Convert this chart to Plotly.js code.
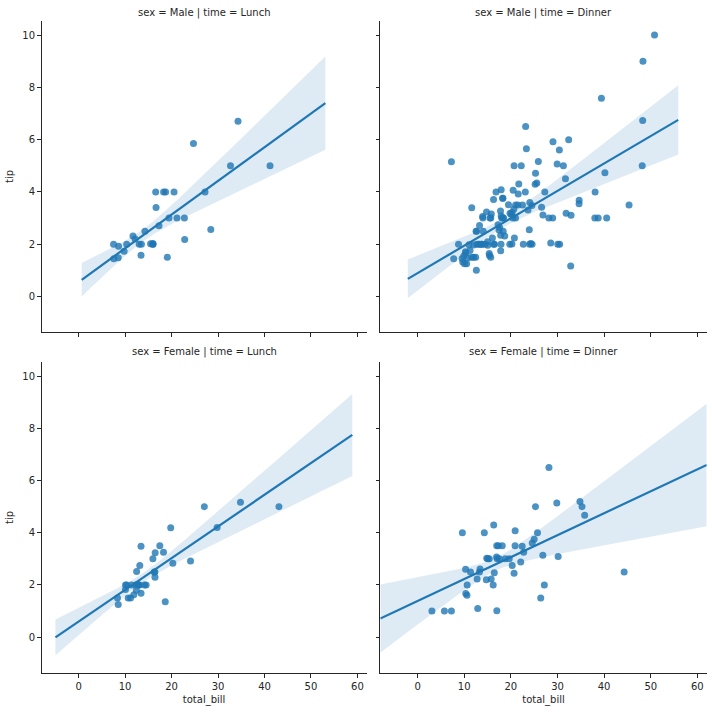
<!DOCTYPE html>
<html>
<head>
<meta charset="utf-8">
<script src="https://cdn.plot.ly/plotly-3.0.1.min.js"></script>
<style>html,body{margin:0;padding:0;background:#fff;}#chart{width:712px;height:712px;}</style>
</head>
<body>
<div id="chart"></div>
<script>
// ---- data: tips dataset, split by sex and time ----
const maleLunchBill = [27.2,22.76,17.29,19.44,16.66,32.68,15.98,13.03,18.28,24.71,21.16,11.69,14.26,15.95,8.52,22.82,19.08,16.0,34.3,41.19,9.78,7.51,28.44,15.48,16.58,7.56,10.34,13.51,18.71,20.53,12.16,8.58,13.42];
const maleLunchTip  = [4.0,3.0,2.71,3.0,3.4,5.0,2.03,2.0,4.0,5.85,3.0,2.31,2.5,2.0,1.48,2.18,1.5,2.0,6.7,5.0,1.73,2.0,2.56,2.02,4.0,1.44,2.0,2.0,4.0,4.0,2.2,1.92,1.58];

const maleDinnerBill = [10.34,21.01,23.68,25.29,8.77,26.88,15.04,14.78,10.27,15.42,18.43,21.58,16.29,20.65,17.92,39.42,19.82,17.81,13.37,12.69,21.7,9.55,18.35,17.78,24.06,16.31,18.69,31.27,16.04,17.46,13.94,9.68,30.4,18.29,22.23,32.4,28.55,18.04,12.54,9.94,25.56,19.49,38.01,11.24,48.27,20.29,13.81,11.02,18.29,17.59,20.08,20.23,15.01,12.02,10.51,17.92,28.97,22.49,40.17,27.28,12.03,21.01,12.46,15.36,20.49,25.21,18.24,14.0,38.07,23.95,29.93,14.07,13.13,17.26,24.55,19.77,48.17,16.49,21.5,12.66,13.81,24.52,20.76,31.71,50.81,15.81,7.25,31.85,16.82,32.9,17.89,14.48,34.63,34.65,23.33,45.35,23.17,40.55,20.69,30.46,23.1,15.69,26.59,38.73,24.27,30.06,25.89,48.33,28.15,11.59,7.74,20.45,13.28,24.01,15.69,11.61,10.77,15.53,10.07,12.6,32.83,29.03,22.67,17.82];
const maleDinnerTip  = [1.66,3.5,3.31,4.71,2.0,3.12,1.96,3.23,1.71,1.57,3.0,3.92,3.71,3.35,4.08,7.58,3.18,2.34,2.0,2.0,4.3,1.45,2.5,3.27,3.6,2.0,2.31,5.0,2.24,2.54,3.06,1.32,5.6,3.0,5.0,6.0,2.05,3.0,2.5,1.56,4.34,3.51,3.0,1.76,6.73,3.21,2.0,1.98,3.76,2.64,3.15,2.01,2.09,1.97,1.25,3.08,3.0,3.5,4.73,4.0,1.5,3.0,1.5,1.64,4.06,4.29,3.76,3.0,4.0,2.55,5.07,2.5,2.0,2.74,2.0,2.0,5.0,2.0,3.5,2.5,2.0,3.48,2.24,4.5,10.0,3.16,5.15,3.18,4.0,3.11,2.0,2.0,3.55,3.68,5.65,3.5,6.5,3.0,5.0,2.0,4.0,1.5,3.41,3.0,2.03,2.0,5.16,9.0,3.0,1.5,1.44,3.0,2.72,2.0,3.0,3.39,1.47,3.0,1.25,1.0,1.17,5.92,2.0,1.75];

const femaleLunchBill = [10.07,34.83,10.65,12.43,24.08,13.42,12.48,29.8,14.52,11.38,20.27,11.17,12.26,18.26,8.51,10.33,14.15,13.16,17.47,27.05,16.43,8.35,18.64,11.87,19.81,43.11,13.0,12.74,13.0,16.4,16.47,13.42,15.98,16.27,10.09];
const femaleLunchTip  = [1.83,5.17,1.5,1.8,2.92,1.68,2.52,4.2,2.0,2.0,2.83,1.5,2.0,3.25,1.25,2.0,2.0,2.75,3.5,5.0,2.3,1.5,1.36,1.63,4.19,5.0,2.0,2.01,2.0,2.5,3.23,3.48,3.0,2.5,2.0];

const femaleDinnerBill = [16.99,24.59,35.26,14.83,10.33,16.97,20.29,15.77,19.65,15.06,20.69,16.93,10.29,34.81,26.41,16.45,3.07,17.07,26.86,25.28,14.73,5.75,16.32,22.75,11.35,15.38,44.3,22.42,20.92,14.31,7.25,25.71,17.31,29.85,25.0,13.39,16.21,17.51,10.59,10.63,9.6,20.9,18.15,12.76,13.27,28.17,12.9,30.14,22.12,35.83,27.18,18.78];
const femaleDinnerTip  = [1.01,3.61,5.0,3.02,1.67,3.5,2.75,2.23,3.0,3.0,2.45,3.07,2.6,5.2,1.5,2.47,1.0,3.0,3.14,5.0,2.2,1.0,4.3,3.25,2.5,3.0,2.5,3.48,4.08,4.0,1.0,4.0,3.5,5.14,3.75,2.61,2.0,3.0,1.61,2.0,4.0,3.5,3.5,2.23,2.5,6.5,1.1,3.09,2.88,4.67,2.0,3.0];

// facet titles
const facetTitles = ["sex = Male | time = Lunch","sex = Male | time = Dinner","sex = Female | time = Lunch","sex = Female | time = Dinner"];
// x extent of each fitted line
const lineStart = [0.65, -2.1, -5.0, -8.0];
const lineEnd   = [53.1, 55.9, 58.9, 62.0];
const xTickVals = [0,10,20,30,40,50,60];
const yTickVals = [0,2,4,6,8,10];

const facetX = [maleLunchBill, maleDinnerBill, femaleLunchBill, femaleDinnerBill];
const facetY = [maleLunchTip, maleDinnerTip, femaleLunchTip, femaleDinnerTip];

const BLUE = '#1f77b4';
const FONT = 'DejaVu Sans, sans-serif';
const TXT = '#262626';

// OLS fit with a heteroscedasticity-consistent (HC2) 95% band for the mean
function fit(xs, ys, x0, x1) {
  const n = xs.length;
  const xm = xs.reduce((a,b)=>a+b,0)/n, ym = ys.reduce((a,b)=>a+b,0)/n;
  let sxx=0, sxy=0;
  for (let i=0;i<n;i++){ sxx+=(xs[i]-xm)**2; sxy+=(xs[i]-xm)*(ys[i]-ym); }
  const b = sxy/sxx, a = ym - b*xm;
  const e2 = xs.map((x,i)=>{
    const e = ys[i]-(a+b*x);
    const h = 1/n + (x-xm)**2/sxx;
    return (e*e)/(1-h);
  });
  const gx=[], gy=[], lo=[], hi=[];
  const N=100;
  for (let k=0;k<N;k++){
    const x0k = x0 + (x1-x0)*k/(N-1);
    let v=0;
    for (let i=0;i<n;i++){ const w = 1/n + (x0k-xm)*(xs[i]-xm)/sxx; v += w*w*e2[i]; }
    const yh = a+b*x0k, h = 1.96*Math.sqrt(v);
    gx.push(x0k); gy.push(yh); lo.push(yh-h); hi.push(yh+h);
  }
  return {gx, gy, lo, hi};
}

const traces = [];
const axNames = [['x','y'],['x2','y2'],['x3','y3'],['x4','y4']];
for (let f=0; f<4; f++){
  const r = fit(facetX[f], facetY[f], lineStart[f], lineEnd[f]);
  const [xa, ya] = axNames[f];
  traces.push({type:'scatter', mode:'lines', xaxis:xa, yaxis:ya,
    x: r.gx.concat(r.gx.slice().reverse()), y: r.hi.concat(r.lo.slice().reverse()),
    fill:'toself', fillcolor:'rgba(31,119,180,0.15)', line:{width:0}, hoverinfo:'skip', showlegend:false});
  traces.push({type:'scatter', mode:'markers', xaxis:xa, yaxis:ya, x: facetX[f], y: facetY[f],
    marker:{color:BLUE, opacity:0.8, size:7, line:{width:0}}, showlegend:false});
  traces.push({type:'scatter', mode:'lines', xaxis:xa, yaxis:ya, x: r.gx, y: r.gy,
    line:{color:BLUE, width:2.2}, showlegend:false});
}

const W=712, H=712;
const colDom = [[41.5/W, 366.7/W],[380.3/W, 706.7/W]];
const rowDom = [[1-332.3/H, 1-20.7/H],[1-673/H, 1-361.7/H]];

function xaxis(col,row,anchor){
  return {domain: colDom[col], anchor: anchor, range:[-8.0,62.0], tickvals:xTickVals,
    showticklabels: row===1, ticks:'outside', ticklen:3.5, tickwidth:1, tickcolor:TXT,
    showline:true, linecolor:TXT, linewidth:1, showgrid:false, zeroline:false,
    tickfont:{family:FONT,size:10,color:TXT},
    title: row===1 ? {text:'total_bill', font:{family:FONT,size:10,color:TXT}, standoff:5} : {text:''}};
}
function yaxis(col,row,anchor){
  return {domain: rowDom[row], anchor: anchor, range:[-1.37,10.55], tickvals:yTickVals,
    showticklabels: col===0, ticks:'outside', ticklen:3.5, tickwidth:1, tickcolor:TXT,
    showline:true, linecolor:TXT, linewidth:1, showgrid:false, zeroline:false,
    tickfont:{family:FONT,size:10,color:TXT},
    title: col===0 ? {text:'tip', font:{family:FONT,size:10,color:TXT}, standoff:6} : {text:''}};
}

const annotations = facetTitles.map((t,i)=>{
  const col=i%2, row=Math.floor(i/2);
  return {text:t, xref:'paper', yref:'paper', x:(colDom[col][0]+colDom[col][1])/2,
    y: row===0 ? 1-12.7/H : 1-351.7/H, xanchor:'center', yanchor:'middle', showarrow:false,
    font:{family:FONT,size:10,color:TXT}};
});

const layout = {
  width:W, height:H, margin:{l:0,r:0,t:0,b:0}, paper_bgcolor:'#fff', plot_bgcolor:'#fff',
  showlegend:false, font:{family:FONT,size:10,color:TXT},
  xaxis: xaxis(0,0,'y'), yaxis: yaxis(0,0,'x'),
  xaxis2: xaxis(1,0,'y2'), yaxis2: yaxis(1,0,'x2'),
  xaxis3: xaxis(0,1,'y3'), yaxis3: yaxis(0,1,'x3'),
  xaxis4: xaxis(1,1,'y4'), yaxis4: yaxis(1,1,'x4'),
  annotations: annotations
};

Plotly.newPlot('chart', traces, layout, {staticPlot:true});
</script>
</body>
</html>
